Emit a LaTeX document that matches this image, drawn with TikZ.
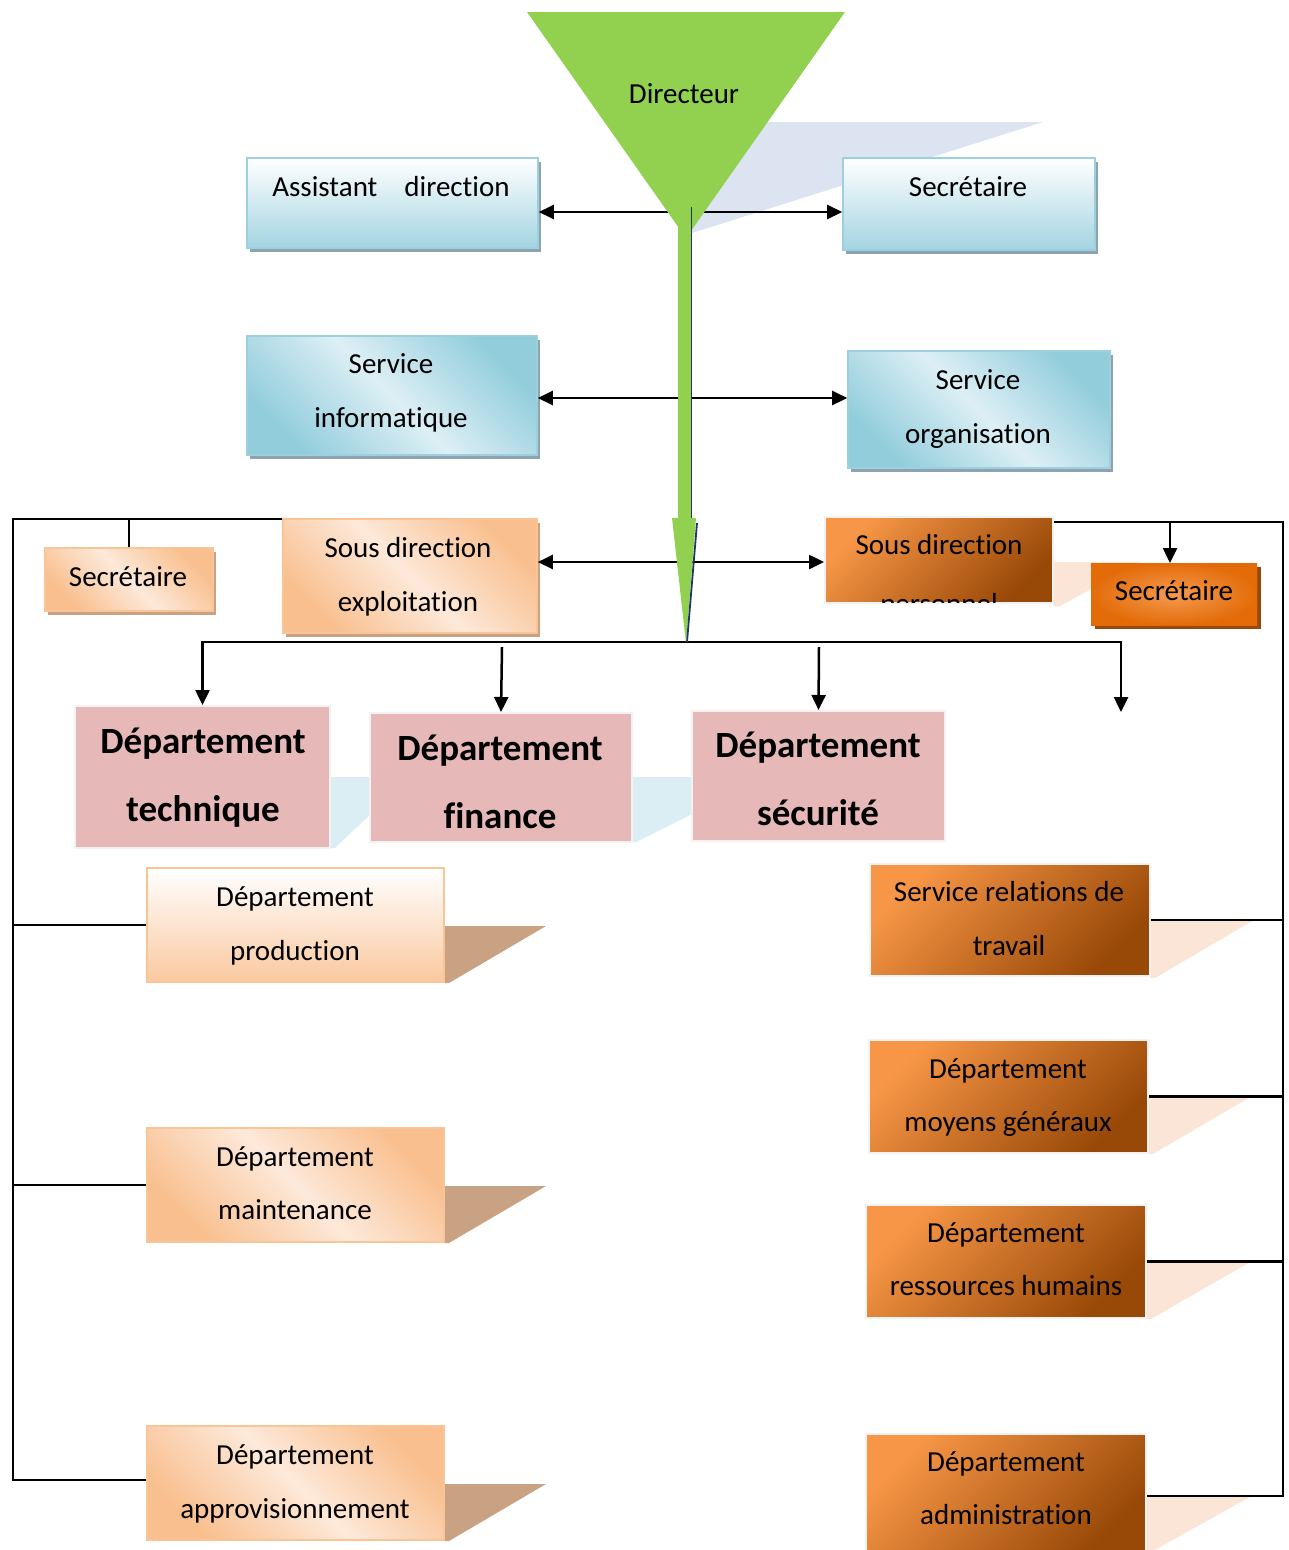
\documentclass[tikz,border=0pt]{standalone}
\usepackage{fontspec}
\setmainfont{Carlito}[Ligatures=NoCommon]
\usetikzlibrary{arrows.meta,shadows}
\definecolor{grn}{HTML}{92D050}
\definecolor{navy}{HTML}{1F3864}
\definecolor{trish}{HTML}{DBE4F0}
\definecolor{dsh}{HTML}{DAEEF3}
\definecolor{brsh}{HTML}{C9A283}
\definecolor{pksh}{HTML}{FBE5D6}
\definecolor{blB}{HTML}{A3D4E2}
\definecolor{blD}{HTML}{92CDDC}
\definecolor{blL}{HTML}{DDEFF5}
\definecolor{blbord}{HTML}{9DD0DF}
\definecolor{blsh}{HTML}{8EA3B0}
\definecolor{peD}{HTML}{F9BF8E}
\definecolor{peL}{HTML}{FDE9DA}
\definecolor{pebord}{HTML}{F9C597}
\definecolor{orL}{HTML}{F79646}
\definecolor{orD}{HTML}{984807}
\definecolor{orM}{HTML}{E36C09}
\definecolor{orC}{HTML}{F59A50}
\definecolor{pink}{HTML}{E6B9B8}
\definecolor{wbord}{HTML}{F2F2F2}
\begin{document}
\begin{tikzpicture}[x=1pt,y=-1pt,
  box/.style={rectangle, inner sep=0pt, line width=1.6pt},
  bluev/.style={box, draw=blbord, top color=white, bottom color=blB,
    drop shadow={shadow xshift=3pt,shadow yshift=-4pt,fill=blsh,opacity=1}},
  bluediag/.style={box, draw=blbord, left color=blD, right color=blD, middle color=blL, shading angle=135,
    drop shadow={shadow xshift=3pt,shadow yshift=-4pt,fill=blsh,opacity=1}},
  peachdiag/.style={box, draw=pebord, left color=peD, right color=peD, middle color=peL, shading angle=135},
  peachsh/.style={peachdiag, drop shadow={shadow xshift=3pt,shadow yshift=-4pt,fill=brsh,opacity=1}},
  peachv/.style={box, draw=pebord, top color=white, bottom color=peD!85},
  darkor/.style={box, draw=wbord, line width=2pt, top color=orL, bottom color=orD, shading angle=45},
  secor/.style={box, draw=none, inner color=orC, outer color=orM,
    drop shadow={shadow xshift=4pt,shadow yshift=-4pt,fill=orD,opacity=1}},
  dept/.style={box, draw=wbord, line width=2pt, fill=pink},
  txt/.style={font=\fontsize{29}{35}\selectfont, anchor=base, inner sep=0pt},
  btxt/.style={font=\fontsize{37}{44}\selectfont\bfseries, anchor=base, inner sep=0pt},
  ln/.style={line width=2.2pt},
  arr/.style={line width=2.5pt, -{Triangle[length=15pt,width=14pt]}},
  darr/.style={line width=2.5pt, {Triangle[length=15pt,width=14pt]}-{Triangle[length=15pt,width=14pt]}}
]
\useasboundingbox (0,0) rectangle (1289,1550);

% ---- background shadows ----
\fill[trish] (740,122) -- (1043,122) -- (692,233) -- (692,200) -- cycle;
\fill[dsh] (330,777) -- (372,777) -- (372,813) -- (335,848) -- (330,848) -- cycle;
\fill[dsh] (632,777) -- (694,777) -- (694,813) -- (636,842) -- (632,842) -- cycle;
\fill[brsh] (444,926) -- (546,926) -- (449,983) -- (444,983) -- cycle;
\fill[brsh] (444,1186) -- (546,1186) -- (449,1243) -- (444,1243) -- cycle;
\fill[brsh] (444,1484) -- (546,1484) -- (449,1541) -- (444,1541) -- cycle;
\fill[pksh] (1150,920) -- (1254,920) -- (1155,978) -- (1150,978) -- cycle;
\fill[pksh] (1148,1096) -- (1252,1096) -- (1153,1154) -- (1148,1154) -- cycle;
\fill[pksh] (1146,1262) -- (1250,1262) -- (1151,1319) -- (1146,1319) -- cycle;
\fill[pksh] (1146,1497) -- (1250,1497) -- (1151,1552) -- (1146,1552) -- cycle;
\fill[pksh] (1053,562) -- (1140,562) -- (1060,606) -- (1053,606) -- cycle;

% ---- coordinates ----
\coordinate (s1) at (685,212);
\coordinate (s2) at (685,398);
\coordinate (s3) at (685,562);
\coordinate (D0) at (686,642);
\coordinate (D4) at (1121,712);
\coordinate (L1) at (13,519);
\coordinate (L2) at (13,1480);
\coordinate (R1) at (1283,522);
\coordinate (R2) at (1283,1496);

% ---- boxes ----
\node[bluev, minimum width=291pt, minimum height=90pt] (asst) at (392.5,203) {};
\node[bluev, minimum width=252pt, minimum height=92pt] (sec1) at (969,204) {};
\node[bluediag, minimum width=290pt, minimum height=119pt] (info) at (392,395.5) {};
\node[bluediag, minimum width=262pt, minimum height=117pt] (org) at (979,409.5) {};
\node[peachsh, minimum width=254pt, minimum height=114pt] (expl) at (410,576) {};
\node[peachsh, minimum width=168pt, minimum height=63pt] (secL) at (129,579.5) {};
\node[darkor, minimum width=228pt, minimum height=86pt] (pers) at (939,560) {};
\node[secor, minimum width=166pt, minimum height=62pt] (secR) at (1174,594) {};
\node[dept, minimum width=255pt, minimum height=142pt] (tech) at (202.5,777) {};
\node[dept, minimum width=262pt, minimum height=129pt] (fin) at (501,777.5) {};
\node[dept, minimum width=253pt, minimum height=130pt] (secu) at (818.5,776) {};
\node[peachv, minimum width=297pt, minimum height=114pt] (prod) at (295.5,925) {};
\node[peachdiag, minimum width=297pt, minimum height=114pt] (maint) at (295.5,1185) {};
\node[peachdiag, minimum width=297pt, minimum height=114pt] (appro) at (295.5,1483) {};
\node[darkor, minimum width=280pt, minimum height=112pt] (rel) at (1010,920) {};
\node[darkor, minimum width=279pt, minimum height=113pt] (moy) at (1008.5,1096.5) {};
\node[darkor, minimum width=280pt, minimum height=113pt] (rh) at (1006,1261.5) {};
\node[darkor, minimum width=280pt, minimum height=120pt] (adm) at (1006,1494) {};

% ---- connectors ----
\draw[darr] (asst.east |- s1) -- (sec1.west |- s1);
\draw[darr] (info.east |- s2) -- (org.west |- s2);
\draw[arr] (s3) -- (expl.east |- s3);
\draw[arr] (s3) -- (pers.west |- s3);
\draw[ln] (expl.north west |- L1) -- (L1) -- (L2) -- (L2 -| appro.west);
\draw[ln] (secL.north) -- (secL.north |- L1);
\draw[ln] (L1 |- prod.west) -- (prod.west);
\draw[ln] (L1 |- maint.west) -- (maint.west);
\draw[ln] (pers.east |- R1) -- (R1) -- (R2) -- (R2 -| adm.east);
\draw[arr] (1170,522) -- (1170,563);
\draw[ln] (rel.east) -- (rel.east -| R1);
\draw[ln] (moy.east) -- (moy.east -| R1);
\draw[ln] (rh.east) -- (rh.east -| R1);
\draw[arr] (D4 |- D0) -- (tech.north |- D0) -- (tech.north);
\draw[arr] (tech.north |- D0) -- (D4 |- D0) -- (D4);
\draw[arr] (502,647) -- (fin.north);
\draw[arr] (819,647) -- (secu.north);

% ---- director funnel ----
\fill[grn] (527,12) -- (845,12) -- (686,238) -- cycle;
\fill[grn] (678,205) rectangle (691,520);
\draw[navy, line width=1.6pt] (691.5,207) -- (691.5,520);
\fill[grn] (672,518) -- (696,518) -- (686,643) -- cycle;
\draw[navy, line width=1.8pt] (697,523) -- (687,642);
\node[txt] (dir) at (684,103) {Directeur};

% ---- texts ----
\node[txt] (asstT) at (391,196) {Assistant\hspace{27pt}direction};
\node[txt] (sec1T) at (968,196) {Secrétaire};
\node[txt] (infoA) at (391,373) {Service};
\node[txt] (infoB) at (391,427) {informatique};
\node[txt] (orgA) at (978,389) {Service};
\node[txt] (orgB) at (978,443) {organisation};
\node[txt] (explA) at (408,557) {Sous direction};
\node[txt] (explB) at (408,611) {exploitation};
\node[txt] (secLT) at (128,586) {Secrétaire};
\node[txt] (persA) at (939,554) {Sous direction};
\begin{scope}
\clip ([xshift=2pt,yshift=-2pt]pers.north west) rectangle ([xshift=-2pt,yshift=2pt]pers.south east);
\node[txt] (persB) at (939,613) {personnel};
\end{scope}
\node[txt] (secRT) at (1174,600) {Secrétaire};
\node[btxt] (techA) at (203,753) {Département};
\node[btxt] (techB) at (203,821) {technique};
\node[btxt] (finA) at (500,760) {Département};
\node[btxt] (finB) at (500,828) {finance};
\node[btxt] (secuA) at (818,757) {Département};
\node[btxt] (secuB) at (818,825) {sécurité};
\node[txt] (prodA) at (295,906) {Département};
\node[txt] (prodB) at (295,960) {production};
\node[txt] (maintA) at (295,1166) {Département};
\node[txt] (maintB) at (295,1219) {maintenance};
\node[txt] (approA) at (295,1464) {Département};
\node[txt] (approB) at (295,1518) {approvisionnement};
\node[txt] (relA) at (1009,901) {Service relations de};
\node[txt] (relB) at (1009,955) {travail};
\node[txt] (moyA) at (1008,1078) {Département};
\node[txt] (moyB) at (1008,1131) {moyens généraux};
\node[txt] (rhA) at (1006,1242) {Département};
\node[txt] (rhB) at (1006,1295) {ressources humains};
\node[txt] (admA) at (1006,1471) {Département};
\node[txt] (admB) at (1006,1524) {administration};
\end{tikzpicture}
\end{document}
